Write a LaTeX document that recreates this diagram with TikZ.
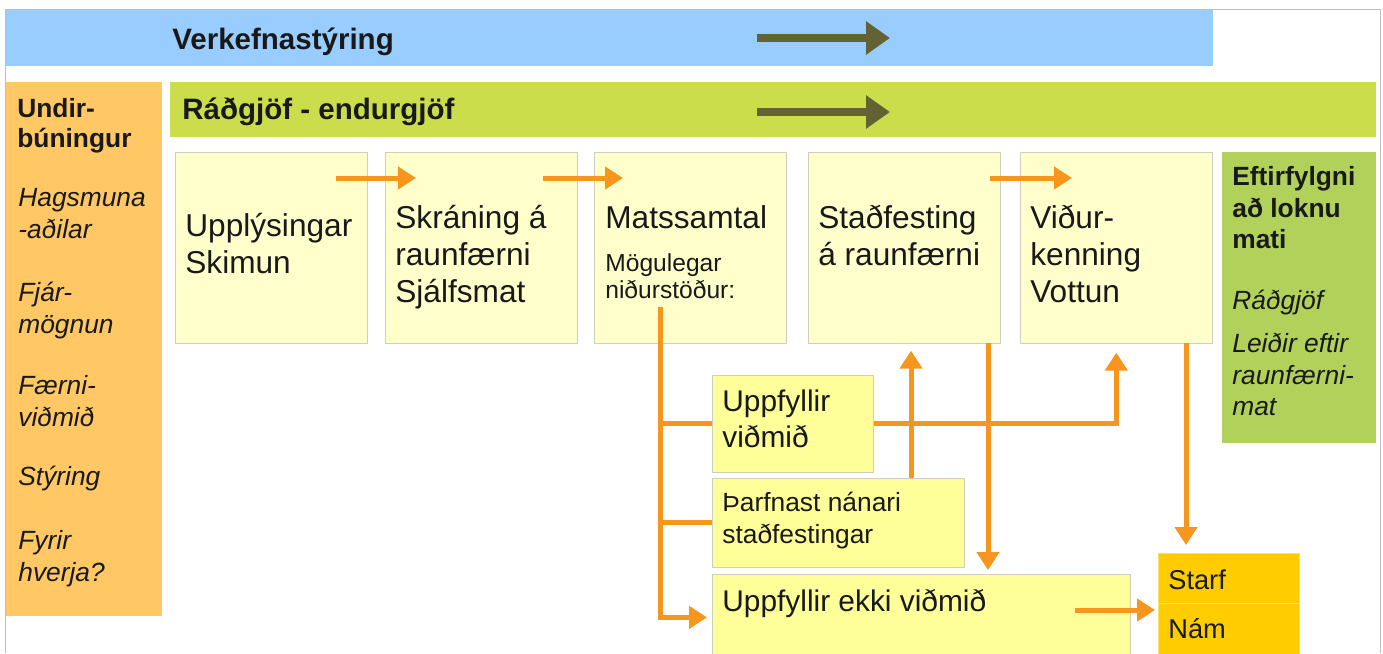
\documentclass[tikz,border=0pt]{standalone}
\usepackage{fontspec}
\setmainfont{Liberation Sans}
\usetikzlibrary{arrows.meta}

\definecolor{bandblue}{HTML}{99CCFF}
\definecolor{bandgreen}{HTML}{CCDD4C}
\definecolor{prepor}{HTML}{FFC864}
\definecolor{aftergreen}{HTML}{B2D15A}
\definecolor{boxfill}{HTML}{FFFFCC}
\definecolor{boxline}{HTML}{CFCFBE}
\definecolor{resfill}{HTML}{FFFF99}
\definecolor{goldfill}{HTML}{FFCC00}
\definecolor{flowor}{HTML}{F7961E}
\definecolor{olive}{HTML}{626232}

\begin{document}
\begin{tikzpicture}[
		x=0.02cm, y=-0.02cm,
		every node/.style={inner sep=0pt, text=black!90},
		band/.style={anchor=north west, minimum height=1.1cm},
		stage/.style={draw=boxline, fill=boxfill, anchor=north west, minimum width=3.84cm, minimum height=3.82cm},
		result/.style={draw=boxline, fill=resfill, anchor=north west},
		gold/.style={draw=goldfill!60!white, fill=goldfill, anchor=north west, minimum width=2.82cm},
		txt/.style={anchor=north west, align=left},
		flow/.style={draw=flowor, line width=0.1cm, -{Triangle[length=0.36cm,width=0.44cm]}},
		branch/.style={draw=flowor, line width=0.1cm},
		olivearrow/.style={draw=olive, line width=0.16cm, -{Triangle[length=0.48cm,width=0.64cm]}}
	]
  \useasboundingbox (0,0) rectangle (1383,653);
  \draw[black!25] (5,653) |- (1380,9) -- (1380,653);

  % bands along the top
  \node (proj) [band, fill=bandblue, minimum width=24.14cm, minimum height=1.12cm] at (6,10) {};
  \node (advice) [band, fill=bandgreen, minimum width=24.12cm] at (170,82) {};
  \node (proj_t) [txt, font=\bfseries\fontsize{16.8}{19}\selectfont] at (172,27) {Verkefnastýring};
  \node (advice_t) [txt, font=\bfseries\fontsize{16.8}{19}\selectfont] at (182,97) {Ráðgjöf - endurgjöf};
  \coordinate (pa_s) at (757,38);
  \coordinate (pa_e) at (890,38);
  \coordinate (aa_s) at (757,112);
  \coordinate (aa_e) at (890,112);
  \draw[olivearrow] (pa_s) -- (pa_e);
  \draw[olivearrow] (aa_s) -- (aa_e);

  % preparation column
  \node (prep) [anchor=north west, fill=prepor, minimum width=3.12cm, minimum height=10.68cm] at (6,82) {};
  \node (prep_h) [txt, font=\bfseries\fontsize{15}{17}\selectfont] at (17,98) {Undir-\\búningur};
  \node (prep_a) [txt, font=\itshape\fontsize{15}{18}\selectfont] at (18,188) {Hagsmuna\\-aðilar};
  \node (prep_b) [txt, font=\itshape\fontsize{15}{18}\selectfont] at (18,282) {Fjár-\\mögnun};
  \node (prep_c) [txt, font=\itshape\fontsize{15}{18}\selectfont] at (18,375) {Færni-\\viðmið};
  \node (prep_d) [txt, font=\itshape\fontsize{15}{18}\selectfont] at (18,466) {Stýring};
  \node (prep_e) [txt, font=\itshape\fontsize{15}{18}\selectfont] at (18,530) {Fyrir\\hverja?};

  % stages
  \node (b1) [stage] at (175,152) {};
  \node (b2) [stage] at (385,152) {};
  \node (b3) [stage] at (594,152) {};
  \node (b4) [stage] at (808,152) {};
  \node (b5) [stage] at (1020,152) {};
  \node (b1_t) [txt, font=\fontsize{18}{21}\selectfont] at (185,213) {Upplýsingar\\Skimun};
  \node (b2_t) [txt, font=\fontsize{18}{21}\selectfont] at (395,205) {Skráning á\\raunfærni\\Sjálfsmat};
  \node (b3_t) [txt, font=\fontsize{18}{21}\selectfont] at (605,205) {Matssamtal};
  \node (b3_s) [txt, font=\fontsize{14}{15.3}\selectfont] at (605,253) {Mögulegar\\niðurstöður:};
  \node (b4_t) [txt, font=\fontsize{18}{21}\selectfont] at (818,205) {Staðfesting\\á raunfærni};
  \node (b5_t) [txt, font=\fontsize{18}{21}\selectfont] at (1030,205) {Viður-\\kenning\\Vottun};

  % follow-up column
  \node (after) [anchor=north west, fill=aftergreen, minimum width=3.08cm, minimum height=5.82cm] at (1222,152) {};
  \node (after_h) [txt, font=\bfseries\fontsize{15}{18}\selectfont] at (1232,166) {Eftirfylgni\\að loknu\\mati};
  \node (after_a) [txt, font=\itshape\fontsize{15}{18}\selectfont] at (1232,290) {Ráðgjöf};
  \node (after_b) [txt, font=\itshape\fontsize{15}{18}\selectfont] at (1232,333) {Leiðir eftir\\raunfærni-\\mat};

  % possible results
  \node (uv) [result, minimum width=3.22cm, minimum height=1.94cm] at (712,375) {};
  \node (pn) [result, minimum width=5.04cm, minimum height=1.78cm] at (712,478) {};
  \node (ekki) [result, minimum width=8.36cm, minimum height=1.72cm] at (712,574) {};
  \node (uv_t) [txt, font=\fontsize{17}{21}\selectfont] at (722,389) {Uppfyllir\\viðmið};
  \node (pn_t) [txt, font=\fontsize{15}{18}\selectfont] at (722,492) {Þarfnast nánari\\staðfestingar};
  \node (ekki_t) [txt, font=\fontsize{17}{21}\selectfont] at (722,589) {Uppfyllir ekki viðmið};
  \node (starf) [gold, minimum height=1cm] at (1158,553) {};
  \node (nam) [gold, minimum height=1.14cm] at (1158,603) {};
  \node (starf_t) [txt, font=\fontsize{15.5}{18}\selectfont] at (1168,569) {Starf};
  \node (nam_t) [txt, font=\fontsize{15.5}{18}\selectfont] at (1168,618) {Nám};

  % flow between stages
  \coordinate (s12) at (336,178);
  \coordinate (e12) at (416,178);
  \coordinate (s23) at (543,178);
  \coordinate (e23) at (623,178);
  \coordinate (s45) at (990,178);
  \coordinate (e45) at (1072,178);
  \draw[flow] (s12) -- (e12);
  \draw[flow] (s23) -- (e23);
  \draw[flow] (s45) -- (e45);

  % results
  \coordinate (mt) at (660,307);
  \draw[flow, shorten >=0.1cm] (mt) |- (ekki.west);
  \draw[branch] (mt |- uv.west) -- (uv.west);
  \draw[branch] (mt |- pn.west) -- (pn.west);
  \draw[flow, shorten >=0.18cm] (uv.east) -| (b5.south);
  \coordinate (pnup) at (911,478);
  \draw[flow, shorten >=0.14cm] (pnup) -- (pnup |- b4.south);
  \coordinate (sdn) at (988,343);
  \draw[flow, shorten >=0.08cm] (sdn) -- (sdn |- ekki.north);
  \coordinate (vdn) at (1186,343);
  \draw[flow, shorten >=0.16cm] (vdn) -- (vdn |- starf.north);
  \coordinate (en) at (1075,610);
  \draw[flow, shorten >=0.06cm] (en) -- (en -| starf.west);
\end{tikzpicture}
\end{document}
